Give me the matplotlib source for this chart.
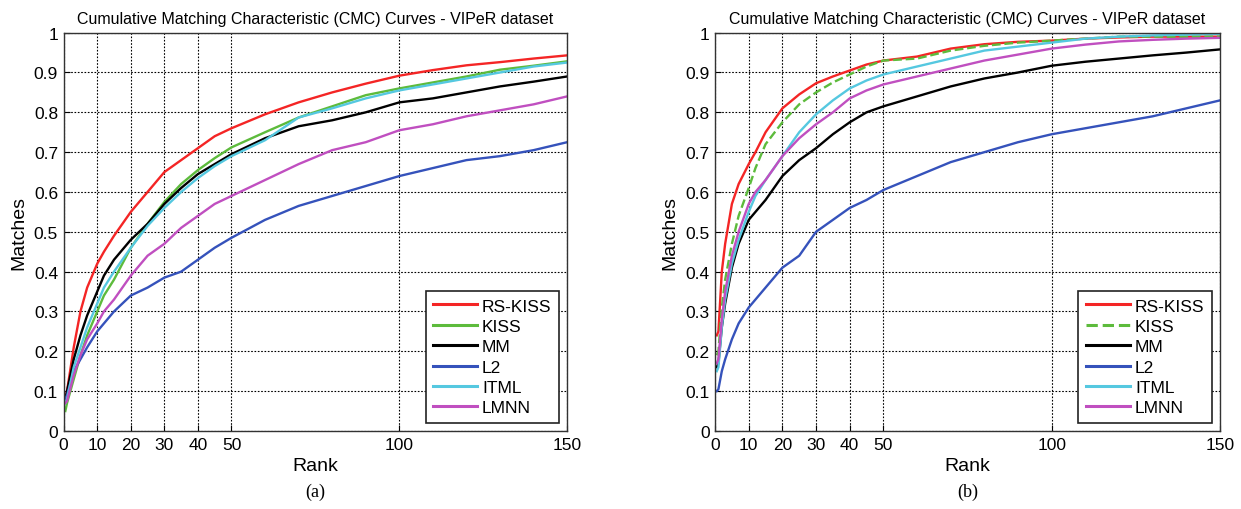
import matplotlib
matplotlib.use("Agg")
import matplotlib.pyplot as plt

plt.rcParams['font.family'] = ['Liberation Sans', 'DejaVu Sans']

rank_a = [0.5, 1, 3, 5, 7, 10, 12, 15, 20, 25, 30, 35, 40, 45, 50,
          60, 70, 80, 90, 100, 110, 120, 130, 140, 150]

# panel (a)
rskiss_a = [0.08, 0.10, 0.21, 0.30, 0.36, 0.42, 0.45, 0.49, 0.55, 0.60, 0.65, 0.68, 0.71, 0.74, 0.76,
            0.795, 0.825, 0.85, 0.872, 0.892, 0.906, 0.918, 0.926, 0.935, 0.943]
kiss_a = [0.05, 0.07, 0.13, 0.19, 0.24, 0.30, 0.34, 0.38, 0.46, 0.52, 0.575, 0.62, 0.655, 0.685, 0.712,
          0.75, 0.787, 0.815, 0.843, 0.86, 0.875, 0.89, 0.907, 0.917, 0.928]
mm_a = [0.08, 0.10, 0.18, 0.24, 0.29, 0.35, 0.39, 0.43, 0.48, 0.52, 0.57, 0.61, 0.645, 0.67, 0.695,
        0.735, 0.765, 0.78, 0.80, 0.825, 0.835, 0.85, 0.865, 0.877, 0.89]
l2_a = [0.08, 0.09, 0.15, 0.18, 0.21, 0.25, 0.27, 0.30, 0.34, 0.36, 0.385, 0.40, 0.43, 0.46, 0.485,
        0.53, 0.565, 0.59, 0.615, 0.64, 0.66, 0.68, 0.69, 0.705, 0.725]
itml_a = [0.07, 0.08, 0.16, 0.21, 0.26, 0.32, 0.36, 0.40, 0.46, 0.515, 0.56, 0.60, 0.635, 0.665, 0.69,
          0.73, 0.787, 0.81, 0.835, 0.855, 0.87, 0.885, 0.90, 0.915, 0.925]
lmnn_a = [0.07, 0.075, 0.14, 0.19, 0.23, 0.27, 0.30, 0.33, 0.39, 0.44, 0.47, 0.51, 0.54, 0.57, 0.59,
          0.63, 0.67, 0.705, 0.725, 0.755, 0.77, 0.79, 0.805, 0.82, 0.84]

# panel (b)
rank_b = [0.5, 1, 2, 3, 5, 7, 10, 12, 15, 20, 25, 30, 35, 40, 45, 50,
          60, 70, 80, 90, 100, 110, 120, 130, 140, 150]
rskiss_b = [0.24, 0.25, 0.40, 0.47, 0.57, 0.62, 0.67, 0.70, 0.75, 0.81, 0.845, 0.873, 0.89, 0.905, 0.92, 0.93,
            0.94, 0.96, 0.971, 0.977, 0.98, 0.985, 0.988, 0.99, 0.99, 0.99]
kiss_b = [0.19, 0.20, 0.31, 0.38, 0.47, 0.54, 0.61, 0.66, 0.72, 0.775, 0.82, 0.85, 0.875, 0.895, 0.915, 0.93,
          0.935, 0.955, 0.967, 0.975, 0.98, 0.985, 0.99, 0.99, 0.99, 0.99]
mm_b = [0.16, 0.17, 0.26, 0.32, 0.41, 0.47, 0.53, 0.55, 0.58, 0.64, 0.68, 0.71, 0.745, 0.775, 0.80, 0.815,
        0.84, 0.865, 0.885, 0.90, 0.917, 0.927, 0.935, 0.943, 0.95, 0.958]
l2_b = [0.10, 0.105, 0.15, 0.18, 0.23, 0.27, 0.31, 0.33, 0.36, 0.41, 0.44, 0.50, 0.53, 0.56, 0.58, 0.605,
        0.64, 0.675, 0.70, 0.725, 0.745, 0.76, 0.775, 0.79, 0.81, 0.83]
itml_b = [0.15, 0.16, 0.26, 0.33, 0.42, 0.48, 0.55, 0.59, 0.63, 0.69, 0.75, 0.795, 0.83, 0.86, 0.88, 0.895,
          0.915, 0.935, 0.955, 0.965, 0.975, 0.985, 0.99, 0.993, 0.995, 0.997]
lmnn_b = [0.17, 0.18, 0.28, 0.35, 0.44, 0.50, 0.57, 0.60, 0.63, 0.69, 0.735, 0.77, 0.80, 0.835, 0.855, 0.87,
          0.89, 0.91, 0.93, 0.945, 0.96, 0.97, 0.978, 0.982, 0.985, 0.987]

labels = ["RS-KISS", "KISS", "MM", "L2", "ITML", "LMNN"]
colors = ["#f42525", "#5dbb3c", "#000000", "#3552bb", "#55c8e0", "#c04fc0"]
xticks = [0, 10, 20, 30, 40, 50, 100, 150]
yticks = [0, 0.1, 0.2, 0.3, 0.4, 0.5, 0.6, 0.7, 0.8, 0.9, 1]
ytick_labels = ["0", "0.1", "0.2", "0.3", "0.4", "0.5", "0.6", "0.7", "0.8", "0.9", "1"]


def draw_panel(ax, rank, series, kiss_style, tag):
    for vals, lab, col in zip(series, labels, colors):
        ls = kiss_style if lab == "KISS" else "-"
        ax.plot(rank, vals, color=col, lw=1.7, ls=ls, label=lab)
    ax.set_xlim(0, 150)
    ax.set_ylim(0, 1)
    ax.set_xticks(xticks)
    ax.set_yticks(yticks)
    ax.set_yticklabels(ytick_labels)
    ax.tick_params(direction="in", labelsize=12.5, length=4, pad=4)
    ax.grid(True, color="black", ls=(0, (1.5, 1.5)), lw=0.8)
    for s in ax.spines.values():
        s.set_color("#333333")
        s.set_linewidth(1.0)
    ax.set_xlabel("Rank", fontsize=14, labelpad=4)
    ax.set_ylabel("Matches", fontsize=14, labelpad=5)
    ax.set_title("Cumulative Matching Characteristic (CMC) Curves - VIPeR dataset",
                 fontsize=11.5, pad=7)
    leg = ax.legend(loc="lower right", fontsize=12.5, fancybox=False, framealpha=1,
                    edgecolor="#222222", handlelength=2.5, handletextpad=0.3,
                    labelspacing=0.3, borderpad=0.45, borderaxespad=0.45)
    leg.get_frame().set_linewidth(1.2)
    for h in leg.get_lines():
        h.set_linewidth(2.2)
    ax.text(0.5, -0.152, tag, transform=ax.transAxes, ha="center", va="center",
            fontsize=13, family="Liberation Serif")


fig = plt.figure(figsize=(12.41, 5.10), dpi=100)
ax_a = fig.add_axes([0.0513, 0.153, 0.4057, 0.781])
ax_b = fig.add_axes([0.5762, 0.153, 0.4069, 0.781])

draw_panel(ax_a, rank_a, [rskiss_a, kiss_a, mm_a, l2_a, itml_a, lmnn_a], "-", "(a)")
draw_panel(ax_b, rank_b, [rskiss_b, kiss_b, mm_b, l2_b, itml_b, lmnn_b], "--", "(b)")

fig.savefig("out.png", dpi=100)
